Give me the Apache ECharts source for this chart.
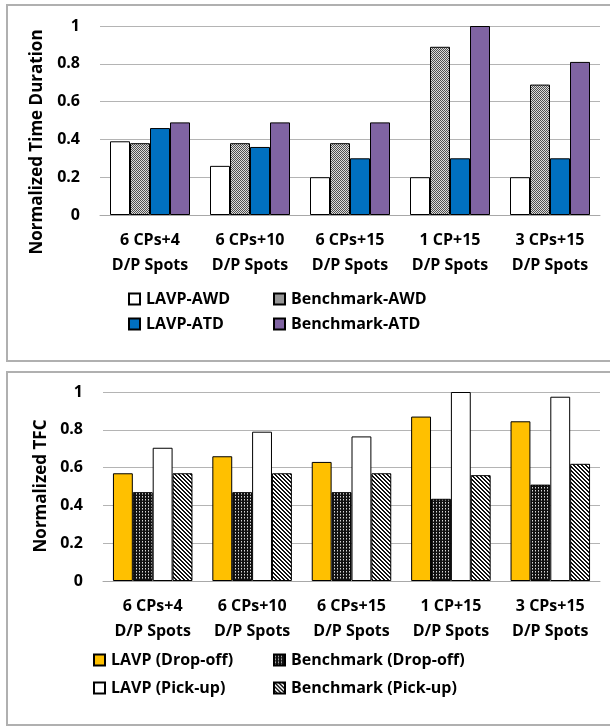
<!DOCTYPE html>
<html>
<head>
<meta charset="utf-8">
<script src="https://cdn.jsdelivr.net/npm/echarts@6/dist/echarts.min.js"></script>
<style>
html,body{margin:0;padding:0;background:#fff;}
#c{width:610px;height:728px;}
</style>
</head>
<body>
<div id="c"></div>
<script>
// ---- data ----
const categories = ['6 CPs+4\nD/P Spots', '6 CPs+10\nD/P Spots', '6 CPs+15\nD/P Spots', '1 CP+15\nD/P Spots', '3 CPs+15\nD/P Spots'];
const yTicks = ['0', '0.2', '0.4', '0.6', '0.8', '1'];

// top chart: normalized time duration
const lavpAWD = [0.39, 0.26, 0.20, 0.20, 0.20];
const benchAWD = [0.38, 0.38, 0.38, 0.89, 0.69];
const lavpATD = [0.46, 0.36, 0.30, 0.30, 0.30];
const benchATD = [0.49, 0.49, 0.49, 1.00, 0.81];

// bottom chart: normalized TFC
const lavpDrop = [0.57, 0.66, 0.63, 0.87, 0.845];
const benchDrop = [0.47, 0.47, 0.47, 0.435, 0.51];
const lavpPick = [0.705, 0.79, 0.765, 1.00, 0.975];
const benchPick = [0.57, 0.57, 0.57, 0.56, 0.62];

// ---- patterns ----
function mk(size, fn) {
  const c = document.createElement('canvas');
  c.width = size; c.height = size;
  const ctx = c.getContext('2d');
  fn(ctx, size);
  return { image: c, repeat: 'repeat' };
}
const checkerGray = mk(2, (ctx) => {
  ctx.fillStyle = '#dcdcdc'; ctx.fillRect(0, 0, 2, 2);
  ctx.fillStyle = '#505050'; ctx.fillRect(0, 0, 1, 1); ctx.fillRect(1, 1, 1, 1);
});
const darkGrid = mk(3, (ctx) => {
  ctx.fillStyle = '#111'; ctx.fillRect(0, 0, 3, 3);
  ctx.fillStyle = '#d8d8d8'; ctx.fillRect(1, 1, 1, 1);
  ctx.fillStyle = '#777'; ctx.fillRect(1, 2, 1, 1);
});
const diagStripes = mk(4, (ctx) => {
  ctx.fillStyle = '#fff'; ctx.fillRect(0, 0, 4, 4);
  ctx.fillStyle = '#111';
  for (let y = 0; y < 4; y++) for (let x = 0; x < 4; x++) {
    const d = ((x - y) % 4 + 4) % 4;
    if (d === 0 || d === 1) ctx.fillRect(x, y, 1, 1);
  }
});

const FONT = 'Open Sans';
const txt = { fontFamily: FONT, fontWeight: 'bold', fontSize: 16, color: '#000' };

function yAxis(gridIndex) {
  return {
    type: 'value', gridIndex: gridIndex, min: 0, max: 1, interval: 0.2,
    axisLine: { show: false }, axisTick: { show: false },
    axisLabel: { margin: 20, fontFamily: FONT, fontWeight: 'bold', fontSize: 16, color: '#000',
      formatter: (v) => yTicks[Math.round(v / 0.2)] },
    splitLine: { lineStyle: { color: '#b4b4b4', width: 1 } }
  };
}
function xAxis(gridIndex) {
  return {
    type: 'category', gridIndex: gridIndex, data: categories,
    axisLine: { lineStyle: { color: '#a8a8a8', width: 1 } },
    axisTick: { show: false },
    axisLabel: { margin: 13, interval: 0, lineHeight: 25, fontFamily: FONT, fontWeight: 'bold', fontSize: 16, color: '#000' }
  };
}
function bar(name, data, color, gi) {
  return {
    name: name, type: 'bar', xAxisIndex: gi, yAxisIndex: gi, data: data,
    barGap: '0%', barCategoryGap: '20%',
    itemStyle: { color: color, borderColor: '#000', borderWidth: 1 },
    emphasis: { disabled: true }, animation: false
  };
}
function leg(name, left, top) {
  return {
    data: [name], left: left, top: top, padding: 0, itemWidth: 11, itemHeight: 11, itemGap: 5,
    icon: 'rect', selectedMode: false,
    textStyle: { fontFamily: FONT, fontWeight: 'bold', fontSize: 16, color: '#000', padding: [0, 0, 0, 1] }
  };
}

const chart = echarts.init(document.getElementById('c'), null, { renderer: 'canvas' });
chart.setOption({
  animation: false,
  backgroundColor: '#fff',
  grid: [
    { left: 100, right: 10, top: 26, height: 189 },
    { left: 103, right: 10, top: 392, height: 189 }
  ],
  xAxis: [xAxis(0), xAxis(1)],
  yAxis: [yAxis(0), yAxis(1)],
  legend: [
    leg('LAVP-AWD', 128, 291),
    leg('Benchmark-AWD', 273, 291),
    leg('LAVP-ATD', 128, 316),
    leg('Benchmark-ATD', 273, 316),
    leg('LAVP (Drop-off)', 93, 652),
    leg('Benchmark (Drop-off)', 273, 652),
    leg('LAVP (Pick-up)', 93, 680),
    leg('Benchmark (Pick-up)', 273, 680)
  ],
  series: [
    bar('LAVP-AWD', lavpAWD, '#ffffff', 0),
    bar('Benchmark-AWD', benchAWD, checkerGray, 0),
    bar('LAVP-ATD', lavpATD, '#0070C0', 0),
    bar('Benchmark-ATD', benchATD, '#8064A2', 0),
    bar('LAVP (Drop-off)', lavpDrop, '#FFC000', 1),
    bar('Benchmark (Drop-off)', benchDrop, darkGrid, 1),
    bar('LAVP (Pick-up)', lavpPick, '#ffffff', 1),
    bar('Benchmark (Pick-up)', benchPick, diagStripes, 1)
  ],
  graphic: [
    { type: 'rect', shape: { x: 7, y: 5, width: 620, height: 356 }, style: { fill: 'none', stroke: '#b0b0b0', lineWidth: 2 }, silent: true, z: -1 },
    { type: 'rect', shape: { x: 7, y: 372, width: 620, height: 353 }, style: { fill: 'none', stroke: '#b0b0b0', lineWidth: 2 }, silent: true, z: -1 },
    { type: 'text', x: 37, y: 142, rotation: Math.PI / 2,
      style: { text: 'Normalized Time Duration', fontFamily: FONT, fontWeight: 'bold', fontSize: 17, fill: '#000', align: 'center', verticalAlign: 'middle' } },
    { type: 'text', x: 41, y: 486, rotation: Math.PI / 2,
      style: { text: 'Normalized TFC', fontFamily: FONT, fontWeight: 'bold', fontSize: 17, fill: '#000', align: 'center', verticalAlign: 'middle' } }
  ]
});
</script>
</body>
</html>
